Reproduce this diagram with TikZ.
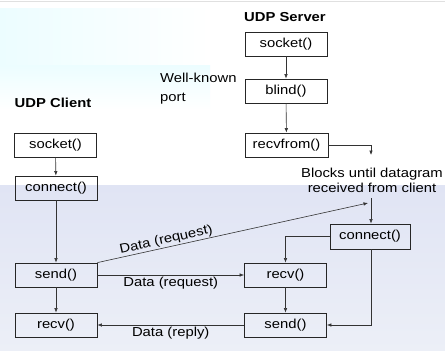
\documentclass[tikz,border=0pt]{standalone}
\usepackage{fontspec}
\setmainfont{Liberation Sans}[FakeStretch=1.14]
\usetikzlibrary{arrows.meta}
\definecolor{bgtop}{RGB}{224,228,244}
\definecolor{bgbot}{RGB}{236,239,247}
\definecolor{bgcyan}{RGB}{236,253,255}
\begin{document}
\begin{tikzpicture}[x=1pt,y=-1pt,
  font=\fontsize{13}{15}\selectfont,
  box/.style={draw=black!85, line width=0.8pt, minimum width=82pt, minimum height=24pt, inner sep=0pt},
  conn/.style={draw=black!80, line width=0.6pt, -{Latex[length=4.5pt,width=3.5pt]}},
  lbl/.style={inner sep=1pt}]
\useasboundingbox (0,0) rectangle (445,351);
% background
\fill[white] (0,0) rectangle (445,351);
\shade[left color=bgcyan, right color=white] (0,8) rectangle (210,65);
\shade[top color=bgcyan, bottom color=white] (0,65) rectangle (210,110);
\shade[top color=bgtop, bottom color=bgbot] (0,185) rectangle (445,351);
\draw[black!12, line width=1pt] (0,1) -- (445,1);
% titles
\node[font=\fontsize{13}{15}\selectfont\bfseries] (tserv) at (285,17) {UDP Server};
\node[font=\fontsize{13}{15}\selectfont\bfseries] (tcli) at (53,103) {UDP Client};
\node[anchor=west, align=left, inner sep=0pt, font=\fontsize{13}{19}\selectfont] (wk) at (160,89) {Well-known\\port};
% server
\node[box] (ssock) at (286,44) {socket()};
\node[box] (sbind) at (286,91) {blind()};
\node[box, minimum width=83pt] (srecvfrom) at (286.5,145) {recvfrom()};
\node[align=center, inner sep=0pt, font=\fontsize{13}{15}\selectfont] (blocks) at (372,180) {Blocks until datagram\\received from client};
\node[box, minimum width=80pt, minimum height=25pt] (sconn) at (370,236.5) {connect()};
\node[box] (srecv) at (285.5,275) {recv()};
\node[box] (ssend) at (285.5,325) {send()};
% client
\node[box] (csock) at (55.5,145) {socket()};
\node[box] (cconn) at (56,188) {connect()};
\node[box] (csend) at (56,275) {send()};
\node[box] (crecv) at (56,325) {recv()};
% coordinates
\coordinate (bdrop) at (371,155);
\coordinate (btop) at (371,198);
\coordinate (dend) at (368,203);
% connectors
\draw[conn] (ssock) -- (sbind);
\draw[conn] (sbind) -- (srecvfrom);
\draw[conn] (srecvfrom.east) -| (bdrop);
\draw[conn] (btop) -- (btop |- sconn.north);
\draw[conn] (csend.north east) -- node[lbl, sloped, above, pos=0.26] {Data (request)} (dend);
\draw[conn] (sconn.west) -| (srecv.north);
\draw[conn] (sconn.south -| btop) |- (ssend.east);
\draw[conn] (srecv) -- (ssend);
\draw[conn] (csock) -- (cconn);
\draw[conn] (cconn) -- (csend);
\draw[conn] (csend) -- (crecv);
\draw[conn] (csend) -- node[lbl, below=1pt] {Data (request)} (srecv);
\draw[conn] (ssend) -- node[lbl, below=1pt] {Data (reply)} (crecv);
\end{tikzpicture}
\end{document}
